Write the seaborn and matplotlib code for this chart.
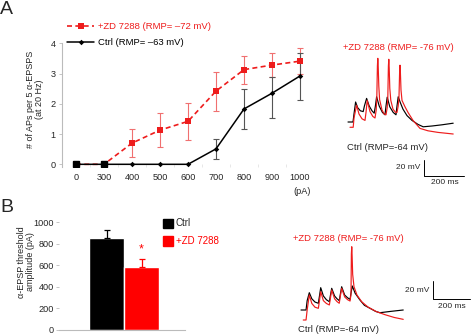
import numpy as np
import pandas as pd
import matplotlib
matplotlib.use("Agg")
import matplotlib.pyplot as plt
from matplotlib.lines import Line2D
from matplotlib.patches import Rectangle
import seaborn as sns

# ---------------- data ----------------
currents = ["0", "300", "400", "500", "600", "700", "800", "900", "1000"]
zd_mean = [0, 0, 0.70, 1.13, 1.42, 2.42, 3.13, 3.28, 3.41]
zd_sem = [0, 0, 0.47, 0.55, 0.62, 0.645, 0.46, 0.39, 0.43]
ctrl_mean = [0, 0, 0, 0, 0, 0.51, 1.83, 2.35, 2.92]
ctrl_sem_lo = [0, 0, 0, 0, 0, 0.34, 0.66, 0.83, 0.79]
ctrl_sem_hi = [0, 0, 0, 0, 0, 0.32, 0.65, 0.53, 0.77]

bar_groups = ["Ctrl", "+ZD 7288"]
bar_values = [857, 579]
bar_sem = [70, 75]

# example voltage traces (time in ms, membrane potential in mV, relative to start)
tr1_ctrl_t = [0, 25, 30, 38, 48, 62, 76, 82, 93, 106, 120, 131, 137, 143, 156, 172, 185, 190, 196,
              209, 226, 240, 245, 251, 262, 275, 295, 320, 350, 376, 420, 470, 526]
tr1_ctrl_v = [0, 0, 10, 25, 18, 14, 13, 20, 29.5, 20, 14, 11, 20, 31.5, 20, 12, 9, 20, 31,
              19, 12, 9, 20, 31.5, 24, 16, 8, 2, -3, -6, -5, -3.5, -1.5]
tr1_zd_t = [10, 26, 30, 43, 55, 70, 85, 90, 96, 110, 124, 135, 141, 144, 147, 149, 151, 154, 158,
            170, 181, 190, 196, 199, 202, 204, 206, 209, 214, 225, 238, 245, 251, 255, 258, 260,
            262, 265, 270, 285, 300, 325, 360, 400, 450, 526]
tr1_zd_v = [-6.6, -6.6, 5, 21, 10, 4, 2, 12, 27, 13, 7, 5, 15, 30, 70, 79.6, 70, 45, 28,
            15, 10, 9, 18, 30, 70, 78.4, 68, 42, 27, 16, 12, 12, 20, 32, 62, 71,
            62, 40, 27, 19, 12, 2, -8, -11, -13, -15]

tr2_ctrl_t = [0, 27, 33, 44.5, 58, 75, 93, 99, 105.6, 120, 136, 152, 158, 164.6, 180, 193, 205, 211,
              218, 234, 250, 263, 268, 275, 290, 316, 340, 370, 400, 423, 480, 548]
tr2_ctrl_v = [0, 0, 10, 18.5, 12, 8.5, 7.2, 15, 23.9, 15, 11, 8.9, 16, 23.2, 15, 12, 10, 17,
              24.9, 16, 13, 11.4, 18, 25.7, 18, 10.7, 5, 1.8, -1.5, -2.9, -1.5, 0]
tr2_zd_t = [12, 27, 33, 44.5, 58, 75, 93, 99, 105.6, 120, 136, 152, 158, 164.6, 180, 193, 205, 211,
            218, 234, 250, 263, 268, 270, 272, 274, 277, 284, 300, 325, 360, 405, 450, 500, 548]
tr2_zd_v = [-10.7, -10.7, 0, 16, 7, 3, 1.8, 10, 19.6, 10, 7, 5.4, 13, 21.4, 12, 9, 7.2, 15,
            23.2, 14, 11, 9.6, 17, 60, 67.7, 58, 38, 25, 16, 8.9, 3, -1.8, -5, -8, -10]

# ---------------- style ----------------
sns.set_theme(style="white")
plt.rcParams["font.family"] = ["Liberation Sans", "DejaVu Sans"]
plt.rcParams["axes.unicode_minus"] = False

W, H = 474, 336
fig = plt.figure(figsize=(W / 100, H / 100), dpi=100)

RED = "#ee1c1c"
RED_ERR = "#f07070"
GRAY = "#bbbbbb"


def rect(l, t, r, b):
    return [l / W, 1 - b / H, (r - l) / W, (b - t) / H]


def ftext(x, y, s, **kw):
    fig.text(x / W, 1 - y / H, s, **kw)


# ---------------- panel A: dose-response ----------------
axA = fig.add_axes(rect(62, 43.3, 310, 167))
pos = np.arange(len(currents))
dfA = pd.DataFrame({"pos": pos, "zd": zd_mean, "ctrl": ctrl_mean})

axA.errorbar(pos[2:], np.array(zd_mean)[2:], yerr=np.array(zd_sem)[2:], fmt="none",
             ecolor=RED_ERR, elinewidth=0.8, capsize=2, capthick=0.8, zorder=2)
axA.errorbar(pos[5:], np.array(ctrl_mean)[5:],
             yerr=[np.array(ctrl_sem_lo)[5:], np.array(ctrl_sem_hi)[5:]], fmt="none",
             ecolor="#555555", elinewidth=0.8, capsize=2, capthick=0.8, zorder=2)

sns.lineplot(data=dfA, x="pos", y="zd", ax=axA, color=RED, linestyle=(0, (3, 2)),
             linewidth=1.2, marker="s", markersize=4.2, markeredgewidth=0,
             markerfacecolor=RED, zorder=3)
sns.lineplot(data=dfA, x="pos", y="ctrl", ax=axA, color="black", linewidth=1.1,
             marker="D", markersize=2.8, markeredgewidth=0, zorder=4)
# where both conditions coincide at zero the square markers show in black
same = dfA[dfA["zd"] == dfA["ctrl"]].iloc[:2]
axA.plot(same["pos"], same["zd"], linestyle="none", marker="s", markersize=4.6,
         color="black", zorder=5)

axA.set_xlim(-0.5, 8.357)
axA.set_ylim(-0.089, 4.0)
axA.set_yticks([0, 1, 2, 3, 4])
axA.set_xticks(pos)
axA.set_xticklabels(currents)
axA.set_xticks(pos[:-1] + 0.5, minor=True)
axA.set_xlabel("")
axA.set_ylabel("")
for s in ["top", "right", "bottom"]:
    axA.spines[s].set_visible(False)
axA.spines["left"].set_color(GRAY)
axA.spines["left"].set_linewidth(0.8)
axA.tick_params(axis="y", which="major", left=True, length=2.5, width=0.6, color=GRAY,
                labelsize=6.6, pad=2)
axA.tick_params(axis="x", which="major", bottom=False, length=0, labelsize=6.6, pad=4)
axA.tick_params(axis="x", which="minor", bottom=True, length=2, width=0.5, color="#dddddd",
                direction="in")
axA.patch.set_alpha(0)

ftext(302, 191, "(pA)", fontsize=6.6, ha="center", va="center")
ftext(35, 99, "# of APs per 5 \u03b1-EPSPS\n(at 20 Hz)", fontsize=6.5, rotation=90,
      ha="center", va="center", linespacing=1.05)
ftext(0, 9, "A", fontsize=14, ha="left", va="center")
ftext(0, 207, "B", fontsize=14, ha="left", va="center")

# legend for panel A
fig.add_artist(Line2D([67 / W, 94 / W], [1 - 26 / H] * 2, color=RED, linewidth=1.2,
                      linestyle=(0, (3, 2))))
fig.add_artist(Line2D([81 / W], [1 - 26 / H], marker="s", markersize=4.2, color=RED,
                      markeredgewidth=0, linestyle="none"))
ftext(98, 26.5, "+ZD 7288 (RMP= \u201372 mV)", fontsize=6.8, color=RED, va="center")
fig.add_artist(Line2D([67 / W, 94 / W], [1 - 42.3 / H] * 2, color="black", linewidth=1.1))
fig.add_artist(Line2D([81 / W], [1 - 42.3 / H], marker="D", markersize=2.8, color="black",
                      markeredgewidth=0, linestyle="none"))
ftext(98, 42.5, "Ctrl (RMP= \u201363 mV)", fontsize=6.8, color="black", va="center")

# ---------------- panel B: threshold bars ----------------
axB = fig.add_axes(rect(59, 222.3, 185, 329.5))
dfB = pd.DataFrame({"group": bar_groups, "value": bar_values})
sns.barplot(data=dfB, x="group", y="value", hue="group", palette=["black", "#ff0000"],
            width=1.0, legend=False, ax=axB, saturation=1)
for i, (v, e, c) in enumerate(zip(bar_values, bar_sem, ["black", "#ff0000"])):
    axB.errorbar([i], [v], yerr=[[0], [e]], fmt="none", ecolor=c, elinewidth=0.9,
                 capsize=2.2, capthick=0.9, zorder=3)
axB.text(1, bar_values[1] + bar_sem[1] + 35, "*", color="#ff0000", fontsize=9,
         ha="center", va="bottom")
axB.set_xlim(-1.37, 2.245)
axB.set_ylim(0, 1000)
axB.set_yticks([0, 200, 400, 600, 800, 1000])
axB.set_xticks([])
axB.set_xlabel("")
axB.set_ylabel("")
for s in ["top", "right", "left"]:
    axB.spines[s].set_visible(False)
axB.spines["bottom"].set_color(GRAY)
axB.spines["bottom"].set_linewidth(0.8)
axB.tick_params(axis="y", left=True, length=2.5, width=0.6, color=GRAY, labelsize=6.6, pad=1)
axB.patch.set_alpha(0)

ftext(26, 262, "\u03b1-EPSP threshold\namplitude (pA)", fontsize=6.5, rotation=90,
      ha="center", va="center", linespacing=1.05)

fig.add_artist(Rectangle((163.3 / W, 1 - 228 / H), 9.5 / W, 9.5 / H, color="black"))
fig.add_artist(Rectangle((163.3 / W, 1 - 245.5 / H), 9.5 / W, 9.5 / H, color="#ff0000"))
ftext(176, 223.5, "Ctrl", fontsize=7, va="center")
ftext(176, 241, "+ZD 7288", fontsize=7, va="center", color="#ff0000")


# ---------------- example traces ----------------
def trace_axes(x0, y0, ms_px, mv_px, xlim, ylim):
    l = x0 + xlim[0] / ms_px
    r = x0 + xlim[1] / ms_px
    t = y0 - ylim[1] / mv_px
    b = y0 - ylim[0] / mv_px
    ax = fig.add_axes(rect(l, t, r, b))
    ax.set_xlim(*xlim)
    ax.set_ylim(*ylim)
    ax.axis("off")
    return ax


def draw_traces(ax, ct, cv, zt, zv, bar_t, bar_v):
    sns.lineplot(x=ct, y=cv, sort=False, estimator=None, color="black", linewidth=0.85, ax=ax)
    sns.lineplot(x=zt, y=zv, sort=False, estimator=None, color=RED, linewidth=0.85, ax=ax)
    ax.plot([bar_t, bar_t, bar_t + 200], [bar_v + 20, bar_v, bar_v], color="black",
            linewidth=0.7, clip_on=False)


axT1 = trace_axes(348, 122, 5.0, 1.25, (-20, 600), (-75, 90))
draw_traces(axT1, tr1_ctrl_t, tr1_ctrl_v, tr1_zd_t, tr1_zd_v, 381.5, -67.1)
ftext(398, 47, "+ZD 7288 (RMP= -76 mV)", fontsize=6.8, color=RED, ha="center", va="center")
ftext(347, 147, "Ctrl (RMP=-64 mV)", fontsize=6.8, ha="left", va="center")
ftext(420, 167.5, "20 mV", fontsize=6, ha="right", va="center")
ftext(445, 183, "200 ms", fontsize=6, ha="center", va="center")

axT2 = trace_axes(301, 310, 5.36, 1.07, (-20, 920), (-25, 75))
draw_traces(axT2, tr2_ctrl_t, tr2_ctrl_v, tr2_zd_t, tr2_zd_v, 705.9, 11.45)
ftext(348, 238.5, "+ZD 7288 (RMP= -76 mV)", fontsize=6.8, color=RED, ha="center", va="center")
ftext(298, 330, "Ctrl (RMP=-64 mV)", fontsize=6.8, ha="left", va="center")
ftext(429, 290.5, "20 mV", fontsize=6, ha="right", va="center")
ftext(452, 306, "200 ms", fontsize=6, ha="center", va="center")

fig.savefig("out.png", dpi=100)
